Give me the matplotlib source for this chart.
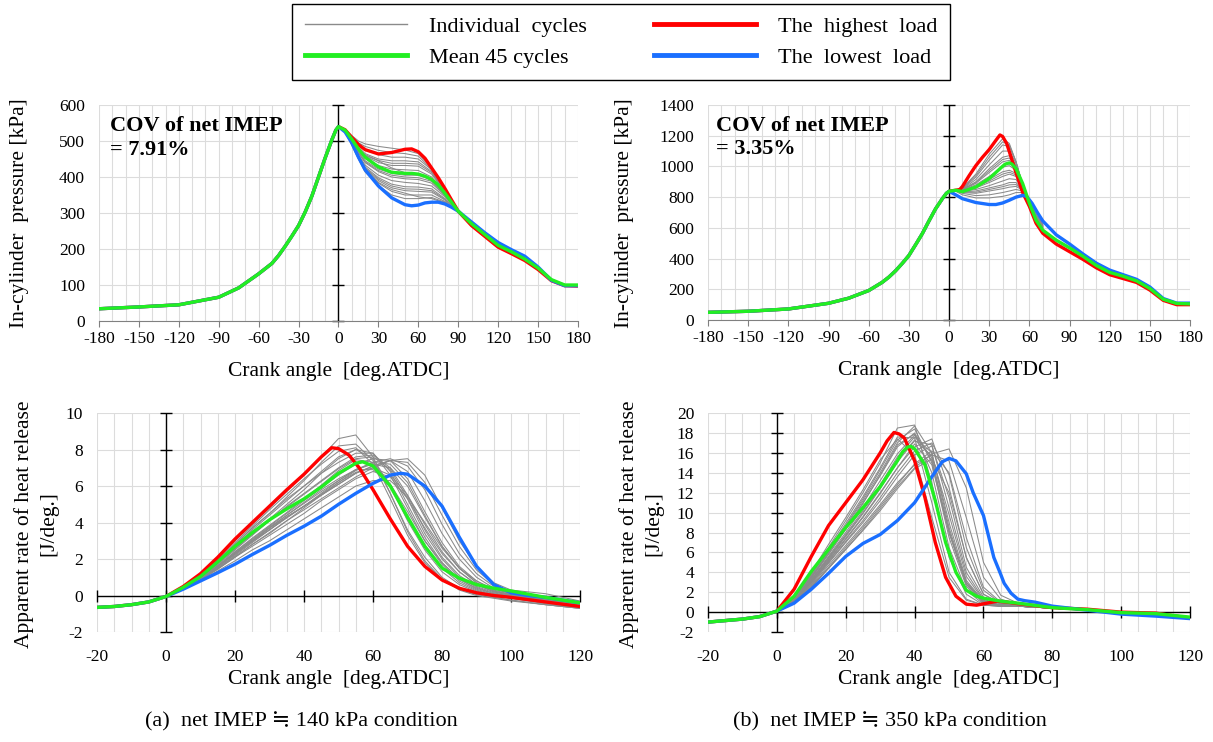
import matplotlib
matplotlib.use('Agg')
import matplotlib.pyplot as plt
from matplotlib.lines import Line2D

plt.rcParams['font.family'] = ['Liberation Serif', 'DejaVu Serif', 'DejaVu Sans']
plt.rcParams['axes.unicode_minus'] = False

# ---------------- (a) net IMEP ~ 140 kPa : in-cylinder pressure ----------------
pa_comp_x = [-180, -150, -120, -90, -75, -60, -50, -45, -40, -35, -30, -25, -20, -15, -10, -5, -2, 0]
pa_comp_y = [34, 39, 45, 66, 92, 131, 160, 182, 208, 236, 265, 303, 347, 400, 453, 503, 530, 540]

pa_x = [0, 5, 10, 15, 20, 30, 40, 50, 55, 60, 65, 70, 75, 80, 85, 90, 100, 110, 120, 130, 140, 150, 160, 170, 180]
pa_mean = [540, 530, 505, 478, 455, 428, 413, 410, 410, 408, 402, 393, 378, 355, 330, 305, 270, 240, 210, 192, 172, 147, 115, 100, 100]
pa_high = [540, 531, 510, 490, 476, 464, 468, 477, 478, 470, 452, 425, 398, 368, 336, 305, 265, 235, 205, 187, 168, 143, 112, 98, 97]
pa_low = [540, 525, 495, 455, 420, 375, 342, 323, 320, 322, 328, 330, 330, 325, 316, 305, 275, 245, 218, 198, 180, 150, 113, 98, 98]

pa_gx = [0, 5, 10, 15, 20, 30, 40, 50, 60, 70, 80, 90, 100]
pa_cycles = [
    [540, 532, 515, 500, 492, 485, 480, 475, 465, 425, 365, 305, 268],
    [540, 531, 512, 495, 485, 474, 468, 465, 458, 422, 364, 305, 268],
    [540, 530, 510, 490, 478, 462, 455, 455, 450, 420, 365, 306, 268],
    [540, 530, 507, 483, 465, 450, 445, 445, 442, 415, 362, 305, 268],
    [540, 529, 506, 480, 462, 446, 438, 438, 436, 412, 361, 305, 268],
    [540, 529, 505, 478, 458, 440, 432, 432, 430, 408, 360, 305, 268],
    [540, 528, 503, 474, 452, 432, 422, 420, 418, 400, 357, 305, 269],
    [540, 528, 500, 470, 445, 422, 410, 405, 405, 392, 352, 304, 269],
    [540, 527, 499, 468, 442, 418, 405, 400, 398, 388, 350, 304, 269],
    [540, 527, 498, 466, 440, 415, 400, 395, 393, 383, 348, 304, 270],
    [540, 527, 496, 462, 433, 405, 390, 385, 382, 375, 345, 304, 270],
    [540, 526, 494, 458, 428, 398, 380, 373, 372, 367, 340, 304, 271],
    [540, 526, 493, 456, 425, 394, 375, 367, 366, 362, 338, 304, 271],
    [540, 526, 492, 455, 423, 390, 370, 362, 360, 358, 336, 304, 272],
    [540, 525, 490, 452, 418, 383, 360, 350, 350, 350, 332, 304, 272],
    [540, 525, 488, 450, 414, 376, 350, 340, 340, 343, 330, 304, 273],
    [540, 525, 490, 453, 420, 385, 365, 355, 345, 340, 328, 304, 273],
    [540, 528, 502, 476, 460, 445, 425, 412, 405, 395, 355, 305, 269],
]

# ---------------- (b) net IMEP ~ 350 kPa : in-cylinder pressure ----------------
pb_comp_x = [-180, -150, -120, -90, -75, -60, -50, -45, -40, -35, -30, -25, -20, -15, -10, -5, -2, 0]
pb_comp_y = [50, 57, 72, 109, 142, 192, 245, 279, 320, 368, 420, 490, 562, 645, 725, 790, 825, 838]

pb_high_x = [0, 5, 8, 10, 15, 20, 25, 30, 35, 38, 40, 43, 46, 50, 55, 60, 65, 70, 80, 90, 100, 110, 120, 130, 140, 150, 160, 170, 180]
pb_high = [838, 845, 850, 870, 940, 1005, 1060, 1110, 1170, 1205, 1195, 1150, 1070, 960, 830, 740, 630, 565, 495, 445, 395, 340, 295, 270, 245, 195, 128, 100, 100]
pb_mean_x = [0, 5, 10, 20, 30, 40, 42, 45, 47, 50, 55, 60, 65, 70, 80, 90, 100, 110, 120, 130, 140, 150, 160, 170, 180]
pb_mean = [838, 845, 836, 866, 921, 1001, 1015, 1023, 1015, 986, 888, 760, 650, 585, 520, 470, 415, 355, 310, 285, 255, 205, 135, 108, 105]
pb_low_x = [0, 5, 10, 20, 30, 35, 40, 45, 50, 55, 58, 62, 66, 70, 80, 90, 100, 110, 120, 130, 140, 150, 160, 170, 180]
pb_low = [838, 815, 790, 765, 752, 752, 762, 780, 800, 812, 805, 760, 700, 645, 555, 495, 430, 370, 325, 295, 265, 215, 140, 110, 110]

pb_gx = [0, 5, 10, 20, 30, 40, 45, 50, 55, 60, 65, 70]
pb_cycles = [
    [838, 845, 860, 950, 1080, 1180, 1150, 1030, 880, 750, 640, 575],
    [838, 845, 857, 940, 1060, 1160, 1140, 1030, 880, 752, 642, 578],
    [838, 845, 855, 930, 1040, 1140, 1130, 1030, 880, 755, 645, 580],
    [838, 845, 852, 915, 1010, 1100, 1100, 1020, 880, 760, 650, 583],
    [838, 845, 850, 900, 985, 1060, 1070, 1010, 880, 765, 655, 586],
    [838, 844, 849, 895, 972, 1045, 1055, 1002, 878, 765, 656, 588],
    [838, 844, 848, 890, 960, 1030, 1040, 995, 875, 765, 658, 590],
    [838, 844, 846, 880, 935, 995, 1005, 975, 870, 768, 662, 594],
    [838, 843, 844, 870, 915, 965, 975, 955, 865, 770, 666, 598],
    [838, 843, 843, 865, 905, 950, 962, 945, 862, 771, 668, 600],
    [838, 843, 842, 860, 895, 935, 950, 935, 860, 772, 670, 602],
    [838, 842, 838, 850, 875, 905, 920, 915, 855, 772, 674, 606],
    [838, 842, 834, 840, 860, 880, 895, 895, 850, 775, 678, 610],
    [838, 841, 832, 832, 850, 868, 880, 882, 848, 775, 680, 612],
    [838, 841, 830, 825, 840, 855, 865, 870, 845, 775, 682, 615],
    [838, 840, 825, 810, 815, 830, 840, 850, 840, 778, 686, 620],
    [838, 838, 815, 795, 795, 805, 815, 830, 830, 780, 690, 626],
]

# ---------------- (a) heat release rate ----------------
ha_pre_x = [-20, -15, -10, -5, 0]
ha_pre_y = [-0.65, -0.6, -0.5, -0.35, -0.05]

ha_high_x = [0, 5, 10, 15, 20, 25, 30, 35, 40, 45, 48, 50, 53, 56, 60, 65, 70, 75, 80, 85, 90, 95, 100, 110, 120]
ha_high = [-0.05, 0.5, 1.2, 2.1, 3.1, 4.0, 4.9, 5.8, 6.65, 7.6, 8.1, 8.05, 7.7, 7.0, 5.8, 4.2, 2.7, 1.6, 0.85, 0.4, 0.15, 0.0, -0.1, -0.35, -0.6]
ha_mean_x = [0, 5, 10, 15, 20, 25, 30, 35, 40, 45, 50, 55, 57, 60, 65, 70, 75, 80, 85, 90, 95, 100, 110, 120]
ha_mean = [-0.05, 0.45, 1.05, 1.85, 2.7, 3.45, 4.15, 4.75, 5.3, 5.95, 6.7, 7.25, 7.33, 7.1, 6.0, 4.3, 2.7, 1.5, 0.95, 0.6, 0.4, 0.25, -0.1, -0.4]
ha_low_x = [0, 5, 10, 15, 20, 25, 30, 35, 40, 45, 50, 55, 60, 65, 68, 70, 75, 80, 85, 90, 95, 100, 105, 110, 120]
ha_low = [-0.05, 0.35, 0.8, 1.25, 1.72, 2.25, 2.75, 3.3, 3.8, 4.35, 5.0, 5.6, 6.15, 6.6, 6.7, 6.65, 6.0, 4.9, 3.2, 1.6, 0.6, 0.15, 0.0, -0.1, -0.4]

ha_gx = [0, 5, 10, 15, 20, 25, 30, 35, 40, 45, 50, 55, 60, 65, 70, 75, 80, 85, 90, 95, 100, 110, 120]
ha_cycles = [
    [-0.05, 0.45, 1.1, 2.0, 3.0, 3.9, 4.8, 5.7, 6.6, 7.6, 8.6, 8.8, 7.6, 5.6, 3.5, 1.9, 0.9, 0.3, 0.0, -0.15, -0.3, -0.5, -0.7],
    [-0.05, 0.45, 1.1, 1.9, 2.8, 3.7, 4.5, 5.4, 6.3, 7.3, 8.2, 8.3, 7.4, 5.6, 3.6, 2.1, 1.0, 0.4, 0.1, -0.1, -0.25, -0.5, -0.7],
    [-0.05, 0.4, 1.0, 1.8, 2.6, 3.4, 4.2, 5.0, 5.8, 6.7, 7.5, 8.0, 7.8, 6.6, 4.8, 3.0, 1.7, 0.8, 0.3, 0.0, -0.15, -0.4, -0.6],
    [-0.05, 0.4, 1.0, 1.7, 2.5, 3.3, 4.1, 4.9, 5.6, 6.3, 7.0, 7.6, 7.7, 7.0, 5.5, 3.6, 2.1, 1.1, 0.5, 0.15, -0.05, -0.3, -0.55],
    [-0.05, 0.4, 0.95, 1.6, 2.4, 3.1, 3.8, 4.5, 5.2, 5.9, 6.6, 7.2, 7.5, 7.4, 6.4, 4.6, 2.9, 1.6, 0.8, 0.3, 0.05, -0.25, -0.5],
    [-0.05, 0.35, 0.9, 1.5, 2.2, 2.9, 3.6, 4.3, 4.9, 5.5, 6.1, 6.7, 7.1, 7.4, 7.3, 6.2, 4.4, 2.7, 1.4, 0.6, 0.2, -0.1, -0.4],
    [-0.05, 0.4, 0.95, 1.6, 2.3, 3.0, 3.7, 4.4, 5.1, 5.8, 6.4, 6.9, 7.2, 7.0, 6.0, 4.3, 2.7, 1.5, 0.7, 0.25, 0.0, -0.25, -0.5],
    [-0.05, 0.45, 1.05, 1.85, 2.7, 3.6, 4.4, 5.2, 6.0, 6.8, 7.6, 8.0, 7.5, 6.0, 4.1, 2.5, 1.3, 0.6, 0.2, 0.0, -0.15, -0.45, -0.65],
    [-0.05, 0.4, 0.9, 1.6, 2.3, 3.0, 3.6, 4.3, 4.9, 5.6, 6.3, 6.9, 6.9, 6.1, 4.6, 3.0, 1.8, 0.9, 0.4, 0.1, -0.05, -0.3, -0.55],
    [-0.05, 0.35, 0.85, 1.45, 2.1, 2.7, 3.3, 3.9, 4.5, 5.2, 5.8, 6.4, 6.8, 6.5, 5.3, 3.7, 2.3, 1.3, 0.6, 0.2, 0.0, -0.25, -0.5],
    [-0.05, 0.4, 0.95, 1.6, 2.3, 3.0, 3.7, 4.3, 4.9, 5.5, 6.1, 6.7, 7.1, 7.4, 6.8, 5.2, 3.4, 2.0, 1.0, 0.4, 0.1, -0.15, -0.45],
    [-0.05, 0.45, 1.05, 1.9, 2.8, 3.7, 4.5, 5.3, 6.0, 6.7, 7.3, 7.8, 7.8, 6.8, 5.0, 3.2, 1.8, 0.9, 0.35, 0.05, -0.1, -0.4, -0.6],
    [-0.05, 0.35, 0.85, 1.45, 2.1, 2.8, 3.4, 4.1, 4.7, 5.3, 5.9, 6.5, 7.0, 7.4, 7.5, 6.6, 4.8, 3.0, 1.6, 0.7, 0.3, 0.1, -0.3],
    [-0.05, 0.35, 0.8, 1.35, 1.9, 2.5, 3.0, 3.6, 4.2, 4.8, 5.4, 6.0, 6.3, 6.3, 5.4, 4.0, 2.6, 1.5, 0.8, 0.35, 0.1, -0.2, -0.45],
    [-0.05, 0.4, 1.0, 1.75, 2.55, 3.35, 4.1, 4.85, 5.55, 6.25, 6.95, 7.5, 7.6, 6.9, 5.3, 3.4, 2.0, 1.0, 0.45, 0.1, -0.05, -0.35, -0.6],
    [-0.05, 0.4, 0.95, 1.65, 2.4, 3.15, 3.85, 4.55, 5.3, 6.05, 6.85, 7.45, 7.3, 6.1, 4.3, 2.7, 1.5, 0.7, 0.25, 0.0, -0.15, -0.4, -0.6],
    [-0.05, 0.4, 0.95, 1.6, 2.35, 3.05, 3.75, 4.4, 5.05, 5.7, 6.3, 6.9, 7.3, 7.2, 6.2, 4.4, 2.7, 1.5, 0.7, 0.25, 0.05, -0.2, -0.5],
    [-0.05, 0.45, 1.1, 1.95, 2.9, 3.8, 4.7, 5.55, 6.4, 7.2, 7.9, 8.1, 7.2, 5.3, 3.3, 1.8, 0.9, 0.35, 0.05, -0.1, -0.25, -0.5, -0.7],
    [-0.05, 0.35, 0.85, 1.5, 2.15, 2.8, 3.45, 4.1, 4.8, 5.5, 6.2, 6.85, 7.3, 7.5, 7.1, 5.8, 3.9, 2.3, 1.2, 0.5, 0.15, -0.15, -0.4],
    [-0.05, 0.4, 0.9, 1.55, 2.25, 2.95, 3.6, 4.25, 4.9, 5.55, 6.2, 6.75, 7.0, 6.6, 5.5, 3.9, 2.4, 1.3, 0.6, 0.2, 0.0, -0.3, -0.55],
]

# ---------------- (b) heat release rate ----------------
hb_pre_x = [-20, -15, -10, -5, 0]
hb_pre_y = [-1.0, -0.85, -0.7, -0.45, 0.1]

hb_high_x = [0, 5, 10, 15, 20, 25, 30, 32, 34, 35.5, 37, 40, 43, 46, 49, 52, 55, 58, 61, 64, 67, 70, 80, 90, 100, 110, 120]
hb_high = [0.1, 2.3, 5.6, 8.7, 11.0, 13.3, 16.0, 17.2, 18.05, 17.9, 17.5, 15.2, 11.5, 7.0, 3.5, 1.6, 0.8, 0.7, 0.9, 1.1, 1.0, 0.85, 0.45, 0.3, 0.0, -0.1, -0.6]
hb_mean_x = [0, 5, 10, 15, 20, 25, 30, 35, 36.5, 38, 39, 40, 43, 46, 49, 52, 55, 58, 60, 65, 70, 80, 90, 100, 110, 120]
hb_mean = [0.1, 1.6, 4.1, 6.3, 8.5, 10.5, 12.6, 15.2, 16.1, 16.6, 16.65, 16.4, 14.8, 11.2, 7.0, 4.0, 2.2, 1.6, 1.4, 1.1, 0.9, 0.45, 0.25, -0.05, -0.15, -0.5]
hb_low_x = [0, 5, 10, 15, 20, 25, 30, 35, 40, 45, 48, 50, 52, 55, 57, 60, 61.5, 63, 65, 66, 68, 70, 72, 75, 80, 90, 100, 110, 120]
hb_low = [0.0, 0.9, 2.3, 3.9, 5.6, 6.9, 7.8, 9.2, 11.0, 13.6, 15.1, 15.45, 15.2, 13.9, 12.0, 9.7, 7.6, 5.5, 3.8, 2.9, 1.9, 1.3, 1.15, 1.0, 0.6, 0.2, -0.2, -0.4, -0.65]

hb_gx = [0, 5, 10, 15, 20, 25, 30, 35, 40, 45, 50, 55, 60, 65, 70, 80, 90, 100, 110, 120]
hb_cycles = [
    [0.1, 1.4, 3.8, 6.5, 9.2, 12.0, 15.0, 18.5, 18.8, 13.0, 5.5, 1.8, 0.7, 0.6, 0.6, 0.4, 0.2, 0.0, -0.3, -0.6],
    [0.1, 1.3, 3.5, 6.0, 8.6, 11.2, 14.0, 17.0, 18.7, 16.0, 8.5, 3.0, 1.0, 0.6, 0.6, 0.4, 0.2, 0.0, -0.3, -0.6],
    [0.1, 1.3, 3.4, 5.8, 8.3, 10.9, 13.8, 16.8, 17.9, 14.0, 6.5, 2.2, 0.8, 0.6, 0.6, 0.4, 0.2, 0.0, -0.3, -0.6],
    [0.05, 1.1, 3.0, 5.2, 7.4, 9.6, 12.0, 14.5, 16.6, 17.4, 12.5, 5.5, 1.8, 0.8, 0.7, 0.4, 0.2, 0.0, -0.25, -0.6],
    [0.05, 1.2, 3.2, 5.5, 7.8, 10.2, 12.8, 15.6, 17.6, 16.0, 9.0, 3.2, 1.1, 0.7, 0.6, 0.4, 0.2, 0.0, -0.3, -0.6],
    [0.05, 1.0, 2.7, 4.7, 6.7, 8.7, 10.8, 13.0, 14.8, 15.8, 15.2, 9.5, 3.5, 1.3, 0.8, 0.4, 0.2, 0.0, -0.25, -0.6],
    [0.05, 1.1, 3.0, 5.1, 7.3, 9.5, 11.9, 14.5, 16.9, 14.8, 8.0, 3.0, 1.1, 0.7, 0.6, 0.4, 0.2, 0.0, -0.3, -0.6],
    [0.05, 1.0, 2.8, 4.9, 7.0, 9.0, 11.2, 13.6, 15.8, 16.7, 11.5, 4.5, 1.5, 0.8, 0.7, 0.4, 0.2, 0.0, -0.25, -0.6],
    [0.1, 1.4, 3.7, 6.3, 8.9, 11.6, 14.5, 17.6, 17.5, 11.0, 4.0, 1.3, 0.7, 0.6, 0.6, 0.4, 0.2, 0.0, -0.3, -0.6],
    [0.05, 0.9, 2.5, 4.4, 6.3, 8.2, 10.2, 12.4, 14.4, 15.4, 12.0, 5.5, 1.8, 0.9, 0.7, 0.4, 0.2, 0.0, -0.25, -0.6],
    [0.1, 1.5, 4.0, 6.8, 9.5, 12.3, 15.3, 17.4, 15.8, 9.5, 3.5, 1.2, 0.7, 0.6, 0.6, 0.4, 0.2, 0.0, -0.3, -0.6],
    [0.05, 0.9, 2.5, 4.4, 6.3, 8.3, 10.4, 12.6, 14.5, 15.9, 16.4, 12.5, 5.0, 1.7, 0.9, 0.4, 0.2, 0.0, -0.3, -0.7],
    [0.05, 1.2, 3.3, 5.6, 8.0, 10.5, 13.2, 15.9, 17.8, 15.5, 8.0, 2.8, 1.0, 0.7, 0.6, 0.4, 0.2, 0.0, -0.3, -0.6],
    [0.1, 1.35, 3.6, 6.1, 8.7, 11.4, 14.3, 17.3, 18.4, 15.0, 7.5, 2.6, 0.9, 0.6, 0.6, 0.4, 0.2, 0.0, -0.3, -0.6],
    [0.05, 1.15, 3.1, 5.3, 7.6, 9.9, 12.4, 15.1, 17.2, 16.8, 10.5, 4.0, 1.3, 0.7, 0.6, 0.4, 0.2, 0.0, -0.3, -0.6],
    [0.05, 1.05, 2.9, 5.0, 7.1, 9.2, 11.5, 14.0, 16.2, 17.0, 13.8, 6.5, 2.2, 0.9, 0.7, 0.4, 0.2, 0.0, -0.25, -0.6],
    [0.1, 1.3, 3.5, 5.9, 8.4, 11.0, 13.7, 16.6, 18.0, 15.2, 8.2, 2.8, 1.0, 0.6, 0.6, 0.4, 0.2, 0.0, -0.3, -0.65],
    [0.05, 1.2, 3.2, 5.4, 7.7, 10.0, 12.5, 15.3, 17.3, 15.7, 9.8, 3.6, 1.2, 0.7, 0.6, 0.4, 0.2, 0.0, -0.3, -0.6],
    [0.05, 0.95, 2.6, 4.5, 6.5, 8.5, 10.6, 12.8, 14.9, 16.2, 14.0, 7.5, 2.5, 1.0, 0.8, 0.4, 0.2, 0.0, -0.3, -0.7],
]

cov_a = 'COV of net IMEP\n= 7.91%'
cov_b = 'COV of net IMEP\n= 3.35%'

RED = '#ff0000'
GREEN = '#22ee22'
BLUE = '#1a6fff'
GRAY = '#8a8a8a'
GRID = '#dcdcdc'
LW = 2.4


def draw_set(ax, gx, cycles, pre_x, pre_y, curves):
    for c in cycles:
        ax.plot(gx, c, color=GRAY, lw=0.75, zorder=2)
    for (cx, cy, col) in curves:
        ax.plot(pre_x + cx[1:], pre_y + cy[1:], color=col, lw=LW, zorder=3,
                solid_capstyle='butt', solid_joinstyle='round')


def style_pressure(ax, ymax, ystep):
    ax.set_xlim(-180, 180)
    ax.set_ylim(0, ymax)
    ax.set_xticks(range(-180, 181, 30))
    ax.set_xticks(range(-180, 181, 10), minor=True)
    yt = list(range(0, ymax + 1, ystep))
    ax.set_yticks(yt)
    ax.set_axisbelow(True)
    ax.grid(which='both', axis='x', color=GRID, lw=0.8)
    ax.grid(which='major', axis='y', color=GRID, lw=0.8)
    for s in ['top', 'right', 'left']:
        ax.spines[s].set_visible(False)
    ax.spines['bottom'].set_color('#808080')
    ax.tick_params(axis='x', which='major', direction='out', length=4,
                   color='#808080', labelsize=12.5, pad=3)
    ax.tick_params(axis='x', which='minor', length=0)
    ax.tick_params(axis='y', length=0, pad=10, labelsize=12.5)
    ax.axvline(0, color='black', lw=1, zorder=1.5)
    ax.plot([0] * len(yt), yt, ls='none', marker='_', ms=8, mew=1,
            color='black', zorder=1.5, clip_on=False)


def style_heat(ax, ymax, ystep):
    ax.set_xlim(-20, 120)
    ax.set_ylim(-2, ymax)
    xt = list(range(-20, 121, 20))
    ax.set_xticks(xt)
    ax.set_xticks(range(-20, 121, 5), minor=True)
    yt = list(range(-2, ymax + 1, ystep))
    ax.set_yticks(yt)
    ax.set_axisbelow(True)
    ax.grid(which='both', axis='x', color=GRID, lw=0.8)
    ax.grid(which='major', axis='y', color=GRID, lw=0.8)
    for s in ax.spines.values():
        s.set_visible(False)
    ax.tick_params(axis='x', which='both', length=0, pad=12, labelsize=12.5)
    ax.tick_params(axis='y', length=0, pad=10, labelsize=12.5)
    ax.axvline(0, color='black', lw=1, zorder=1.5)
    ax.axhline(0, color='black', lw=1, zorder=1.5)
    ax.plot([0] * len(yt), yt, ls='none', marker='_', ms=8, mew=1,
            color='black', zorder=1.5, clip_on=False)
    ax.plot(xt, [0] * len(xt), ls='none', marker='|', ms=9, mew=1,
            color='black', zorder=1.5, clip_on=False)


fig = plt.figure(figsize=(12.13, 7.42), dpi=100)
ax1 = fig.add_axes([0.0816, 0.5674, 0.3949, 0.2911])
ax2 = fig.add_axes([0.5837, 0.5687, 0.3974, 0.2898])
ax3 = fig.add_axes([0.0800, 0.1482, 0.3982, 0.2951])
ax4 = fig.add_axes([0.5837, 0.1482, 0.3974, 0.2951])

style_pressure(ax1, 600, 100)
draw_set(ax1, pa_gx, pa_cycles, pa_comp_x, pa_comp_y,
         [(pa_x, pa_high, RED), (pa_x, pa_low, BLUE), (pa_x, pa_mean, GREEN)])

style_pressure(ax2, 1400, 200)
draw_set(ax2, pb_gx, pb_cycles, pb_comp_x, pb_comp_y,
         [(pb_high_x, pb_high, RED), (pb_low_x, pb_low, BLUE), (pb_mean_x, pb_mean, GREEN)])

style_heat(ax3, 10, 2)
draw_set(ax3, ha_gx, ha_cycles, ha_pre_x, ha_pre_y,
         [(ha_high_x, ha_high, RED), (ha_low_x, ha_low, BLUE), (ha_mean_x, ha_mean, GREEN)])

style_heat(ax4, 20, 2)
draw_set(ax4, hb_gx, hb_cycles, hb_pre_x, hb_pre_y,
         [(hb_high_x, hb_high, RED), (hb_low_x, hb_low, BLUE), (hb_mean_x, hb_mean, GREEN)])

# COV annotations
ax1.text(0.022, 0.95, cov_a, transform=ax1.transAxes, ha='left', va='top',
         fontsize=16, fontweight='bold', linespacing=1.25)
ax2.text(0.016, 0.95, cov_b, transform=ax2.transAxes, ha='left', va='top',
         fontsize=16, fontweight='bold', linespacing=1.25)

# axis labels
for ax in (ax1, ax2):
    ax.text(0.5, -0.236, 'Crank angle  [deg.ATDC]', transform=ax.transAxes,
            ha='center', va='center', fontsize=15.5)
for ax in (ax3, ax4):
    ax.text(0.5, -0.219, 'Crank angle  [deg.ATDC]', transform=ax.transAxes,
            ha='center', va='center', fontsize=15.5)

fig.text(20 / 1213, 1 - 213 / 742, 'In-cylinder  pressure [kPa]', rotation=90,
         ha='center', va='center', fontsize=15.5)
fig.text(625 / 1213, 1 - 213 / 742, 'In-cylinder  pressure [kPa]', rotation=90,
         ha='center', va='center', fontsize=15.5)
fig.text(36 / 1213, 1 - 524 / 742, 'Apparent rate of heat release\n[J/deg.]',
         rotation=90, ha='center', va='center', fontsize=15.5,
         multialignment='center', linespacing=1.35)
fig.text(641 / 1213, 1 - 524 / 742, 'Apparent rate of heat release\n[J/deg.]',
         rotation=90, ha='center', va='center', fontsize=15.5,
         multialignment='center', linespacing=1.35)

# legend
handles = [
    Line2D([], [], color=GRAY, lw=1.0),
    Line2D([], [], color=GREEN, lw=3.5),
    Line2D([], [], color=RED, lw=3.5),
    Line2D([], [], color=BLUE, lw=3.5),
]
labels = ['Individual  cycles', 'Mean 45 cycles', 'The  highest  load', 'The  lowest  load']
leg = fig.legend(handles, labels, ncol=2, loc='center',
                 bbox_to_anchor=(621 / 1213, 1 - 42 / 742), frameon=True,
                 fancybox=False, edgecolor='black', framealpha=1,
                 handlelength=4.6, handletextpad=1.0, columnspacing=3.0,
                 fontsize=16, borderpad=0.55, labelspacing=0.45)
leg.get_frame().set_linewidth(1.0)

# captions
fig.text(301 / 1213, 1 - 722 / 742, '(a)  net IMEP \u2252 140 kPa condition',
         ha='center', va='center', fontsize=16)
fig.text(890 / 1213, 1 - 722 / 742, '(b)  net IMEP \u2252 350 kPa condition',
         ha='center', va='center', fontsize=16)

fig.savefig('out.png', dpi=100)
